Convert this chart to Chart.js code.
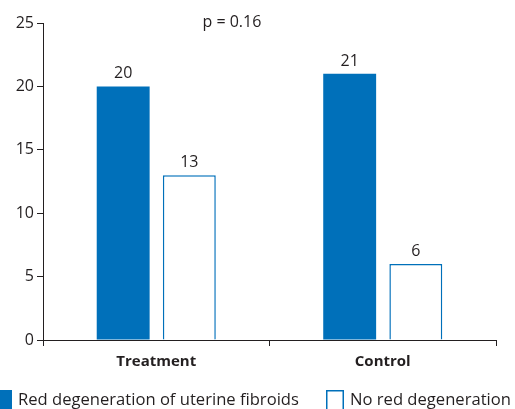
<!DOCTYPE html>
<html>
<head>
<meta charset="utf-8">
<script src="https://cdn.jsdelivr.net/npm/chart.js@4"></script>
<style>
  html, body { margin: 0; padding: 0; background: #fff; }
  #wrap { position: relative; width: 515px; height: 409px; }
</style>
</head>
<body>
<div id="wrap"><canvas id="chart"></canvas></div>
<script>
const groups = ["Treatment", "Control"];
const redDegeneration = [20, 21];
const noRedDegeneration = [13, 6];
const seriesNames = ["Red degeneration of uterine fibroids", "No red degeneration"];
const yTicks = [0, 5, 10, 15, 20, 25];
const pText = "p = 0.16";

const blue = "#0070ba";
const ink = "#231f20";
const font = "'Open Sans', sans-serif";

// value labels above bars, p-value and bottom legend
const extras = {
  id: "extras",
  afterDatasetsDraw(chart) {
    const ctx = chart.ctx;
    ctx.save();
    ctx.fillStyle = ink;
    ctx.font = "16px " + font;
    ctx.textAlign = "center";
    ctx.textBaseline = "alphabetic";
    chart.data.datasets.forEach((ds, i) => {
      chart.getDatasetMeta(i).data.forEach((bar, j) => {
        ctx.fillText(ds.data[j], bar.x, bar.y - 8);
      });
    });
    const a = chart.chartArea;
    ctx.fillText(pText, a.left + (a.right - a.left) * 0.417, 27);

    // legend
    ctx.textAlign = "left";
    ctx.font = "16.6px " + font;
    const items = [{x: -6, ds: 0}, {x: 326, ds: 1}];
    items.forEach(it => {
      const ds = chart.data.datasets[it.ds];
      ctx.fillStyle = ds.backgroundColor;
      ctx.fillRect(it.x, 390, 18, 19);
      ctx.strokeStyle = ds.borderColor;
      ctx.lineWidth = 1.5;
      ctx.strokeRect(it.x + 0.75, 390.75, 16.5, 19);
      ctx.fillStyle = ink;
      ctx.fillText(ds.label, it.x + 24, 405);
    });
    ctx.restore();
  }
};

new Chart(document.getElementById("chart"), {
  type: "bar",
  data: {
    labels: groups,
    datasets: [
      {
        label: seriesNames[0],
        data: redDegeneration,
        backgroundColor: blue,
        borderColor: blue,
        borderWidth: 0
      },
      {
        label: seriesNames[1],
        data: noRedDegeneration,
        backgroundColor: "#ffffff",
        borderColor: blue,
        borderWidth: 1.5
      }
    ]
  },
  options: {
    responsive: true,
    maintainAspectRatio: false,
    animation: false,
    devicePixelRatio: 1,
    layout: { padding: { top: 23, right: 19, left: 0, bottom: 0 } },
    categoryPercentage: 0.584,
    barPercentage: 0.8,
    plugins: {
      legend: { display: false },
      tooltip: { enabled: false }
    },
    scales: {
      x: {
        grid: { offset: true, drawOnChartArea: false, drawTicks: true, tickLength: 6, color: ink },
        border: { color: ink, width: 1 },
        ticks: { color: ink, font: { family: font, size: 15, weight: "bold" }, padding: 7 },
        afterFit(scale) { scale.height = 69; }
      },
      y: {
        min: 0,
        max: 25,
        afterBuildTicks(scale) { scale.ticks = yTicks.map(v => ({ value: v })); },
        grid: { drawOnChartArea: false, drawTicks: true, tickLength: 6, color: ink },
        border: { color: ink, width: 1 },
        ticks: { color: ink, font: { family: font, size: 16 }, padding: 3 },
        afterFit(scale) { scale.width = 43; }
      }
    }
  },
  plugins: [extras]
});
</script>
</body>
</html>
